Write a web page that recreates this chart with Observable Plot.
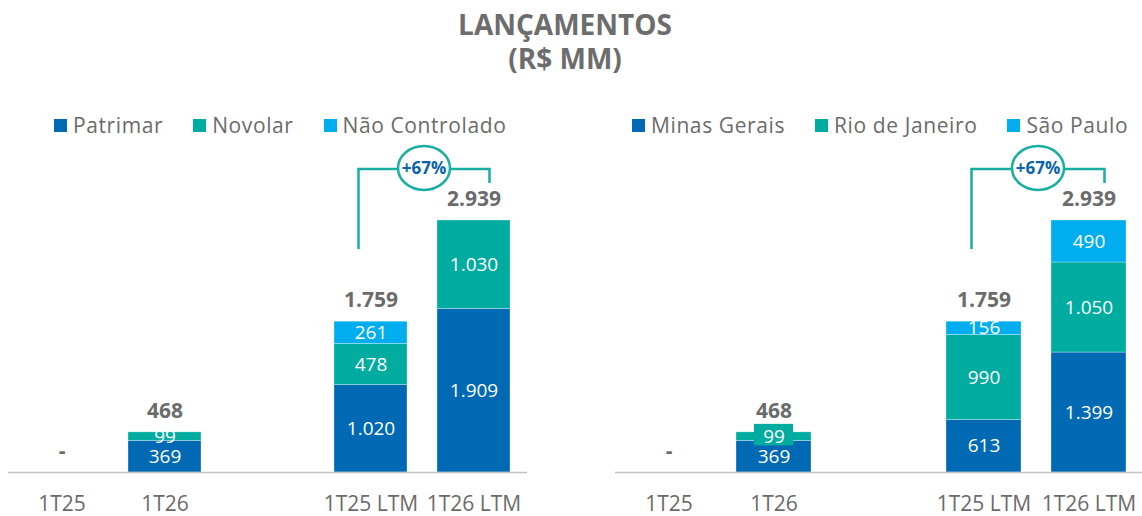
<!DOCTYPE html>
<html><head><meta charset="utf-8">
<script src="https://cdn.jsdelivr.net/npm/d3@7"></script>
<script src="https://cdn.jsdelivr.net/npm/@observablehq/plot@0.6"></script>
<style>
body{margin:0;background:#fff;font-family:"Open Sans",sans-serif;}
#wrap{position:relative;width:1142px;height:516px;overflow:hidden;background:#fff;}
#title{position:absolute;left:365px;width:400px;top:7px;text-align:center;font-weight:700;font-size:28px;line-height:34px;color:#6d6d6d;}
.legend{position:absolute;top:112px;display:flex;gap:30px;font-size:21px;line-height:26px;color:#6b6b6b;letter-spacing:0.6px;white-space:nowrap;}
.legend .item{display:flex;align-items:center;gap:6px;}
.legend .sw{width:13px;height:13px;display:inline-block;}
.panel{position:absolute;top:140px;}
.panel svg{overflow:visible;}
</style></head>
<body>
<div id="wrap">
  <div id="title">LANÇAMENTOS<br>(R$ MM)</div>
  <div class="legend" id="legL" style="left:54px"></div>
  <div class="legend" id="legR" style="left:632px"></div>
  <div class="panel" id="pL" style="left:0px"></div>
  <div class="panel" id="pR" style="left:600px"></div>
</div>
<script>
// ---- data ----
const periods = ["1T25", "1T26", "1T25 LTM", "1T26 LTM"];
const xSlots = ["1T25", "1T26", "", "1T25 LTM", "1T26 LTM"];

const seriesLeft = ["Patrimar", "Novolar", "Não Controlado"];
const patrimar = [0, 369, 1020, 1909];
const novolar = [0, 99, 478, 1030];
const naoControlado = [0, 0, 261, 0];

const seriesRight = ["Minas Gerais", "Rio de Janeiro", "São Paulo"];
const minasGerais = [0, 369, 613, 1399];
const rioDeJaneiro = [0, 99, 990, 1050];
const saoPaulo = [0, 0, 156, 490];

const colors = ["#0069b4", "#00aba0", "#00aeef"];
const TEAL = "#1aaea2";
const GRAY = "#6b6b6b";

const loc = d3.formatLocale({decimal: ",", thousands: ".", grouping: [3], currency: ["R$", ""]});
const fmt = loc.format(",d");

function legend(el, names) {
  const div = document.getElementById(el);
  names.forEach((n, i) => {
    const it = document.createElement("div");
    it.className = "item";
    it.innerHTML = `<span class="sw" style="background:${colors[i]}"></span><span>${n}</span>`;
    div.appendChild(it);
  });
}

function panel(el, names, series, width, marginLeft, marginRight, boxSmall) {
  const data = [];
  names.forEach((s, si) => periods.forEach((p, pi) => data.push({period: p, series: s, value: series[si][pi]})));
  const totals = periods.map((p, pi) => ({period: p, total: d3.sum(series, v => v[pi])}));
  const nonzero = data.filter(d => d.value > 0);
  const maxTotal = d3.max(totals, d => d.total);
  const growth = totals[3].total / totals[2].total - 1;
  const growthText = (growth >= 0 ? "+" : "") + Math.round(growth * 100) + "%";

  const bracket = (index, scales) => {
    const x = scales.x, y = scales.y;
    const bw = x.bandwidth ? x.bandwidth() : 0;
    const yTop = y(maxTotal) - 51;
    const xL = x(periods[2]) + bw / 2 - 12;
    const xR = x(periods[3]) + bw / 2 + 16;
    const g = d3.create("svg:g");
    g.append("path")
      .attr("d", `M${xL},${yTop + 80}V${yTop}H${xR}V${yTop + 14}`)
      .attr("fill", "none").attr("stroke", TEAL).attr("stroke-width", 2.5);
    const cx = (xL + xR) / 2;
    g.append("ellipse").attr("cx", cx).attr("cy", yTop - 1).attr("rx", 26).attr("ry", 22)
      .attr("fill", "#fff").attr("stroke", TEAL).attr("stroke-width", 2.5);
    g.append("text").attr("x", cx).attr("y", yTop - 1).attr("dy", "0.35em")
      .attr("text-anchor", "middle").attr("font-size", 17).attr("font-weight", 700)
      .attr("font-family", "Open Sans").attr("fill", "#0a63ad").text(growthText);
    return g.node();
  };

  const order = names;
  const chart = Plot.plot({
    width, height: 376,
    marginTop: 0, marginBottom: 44, marginLeft, marginRight,
    style: {fontFamily: "Open Sans", background: "transparent", overflow: "visible"},
    x: {domain: xSlots, paddingInner: 0.288, paddingOuter: 0.144, axis: null},
    y: {domain: [0, 3872], axis: null},
    color: {domain: names, range: colors},
    marks: [
      Plot.barY(nonzero, Plot.stackY({x: "period", y: "value", z: "series", order, fill: "series",
        stroke: "#ffffff", strokeWidth: 0.6, strokeOpacity: 0.5})),
      boxSmall ? Plot.barY(nonzero, Plot.stackY({x: "period", y: "value", z: "series", order,
        fill: "series", fillOpacity: d => d.value < 120 ? 1 : 0,
        insetLeft: 18, insetRight: 18, insetTop: -8, insetBottom: -5})) : null,
      Plot.text(nonzero, Plot.stackY({x: "period", y: "value", z: "series", order,
        text: d => fmt(d.value), fill: "#ffffff", fontSize: 19})),
      Plot.text(totals, {x: "period", y: "total", dy: -21, text: d => d.total === 0 ? "-" : fmt(d.total),
        fill: GRAY, fontSize: 21, fontWeight: 700}),
      Plot.ruleY([0], {stroke: "#c4c4c4", strokeWidth: 1.6}),
      Plot.axisX({tickSize: 0, tickPadding: 24, fontSize: 21, fill: GRAY, label: null, tickFormat: d => d}),
      bracket
    ]
  });
  document.getElementById(el).appendChild(chart);
}

legend("legL", seriesLeft);
legend("legR", seriesRight);
panel("pL", seriesLeft, [patrimar, novolar, naoControlado], 540, 8, 13, false);
panel("pR", seriesRight, [minasGerais, rioDeJaneiro, saoPaulo], 542, 15, 0, true);
</script>
</body></html>
